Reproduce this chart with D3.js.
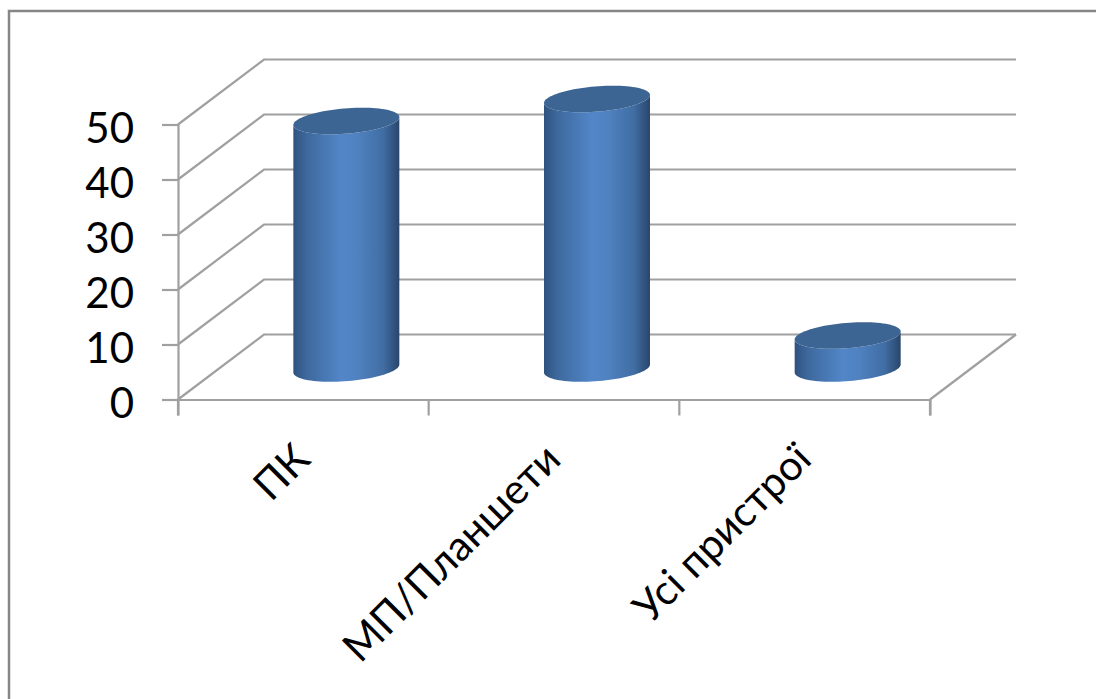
<!DOCTYPE html>
<html><head><meta charset="utf-8">
<script src="https://cdn.jsdelivr.net/npm/d3@7/dist/d3.min.js"></script>
<style>html,body{margin:0;padding:0;background:#fff}svg{display:block}</style>
</head><body><svg id="chart" width="1096" height="699"></svg>
<script>
// Device usage shares, drawn as a 3-D cylinder column chart
const categories = ["ПК", "МП/Планшети", "Усі пристрої"];
const values = [45, 49, 6];
const yTicks = [0, 10, 20, 30, 40, 50];

const font = "Lato, 'Noto Sans', sans-serif";
const gridColor = "#a0a0a0";
const svg = d3.select("#chart");

const x = d3.scaleBand().domain(categories).range([178, 930]);
const y = d3.scaleLinear().domain([0, 50]).range([399.5, 124.5]);

// Oblique projection: how far the back wall sits from the front plane
const depth = { dx: 86, dy: -65 };

// Chart frame, open towards the right and bottom
svg.append("path")
  .attr("d", "M9,699V11H1096")
  .attr("fill", "none").attr("stroke", "#868686").attr("stroke-width", 2.5);

// Gradient across the cylinder body
const defs = svg.append("defs");
const grad = defs.append("linearGradient").attr("id", "body");
[[0, "#2f527f"], [0.12, "#3d689c"], [0.45, "#5286c8"], [0.6, "#5082c1"], [0.85, "#406da3"], [1, "#29466b"]]
  .forEach(([o, c]) => grad.append("stop").attr("offset", o).attr("stop-color", c));

// Floor and back-wall grid
const grid = svg.append("g").attr("fill", "none").attr("stroke", gridColor).attr("stroke-width", 2.2);
yTicks.forEach(t => {
  grid.append("path").attr("d", d3.line()([
    [x.range()[0], y(t)],
    [x.range()[0] + depth.dx, y(t) + depth.dy],
    [x.range()[1] + depth.dx, y(t) + depth.dy]
  ]));
});
grid.append("line")
  .attr("x1", x.range()[1]).attr("y1", y(0))
  .attr("x2", x.range()[1] + depth.dx).attr("y2", y(0) + depth.dy);

// Axes
const yAxis = d3.axisLeft(y).tickValues(yTicks).tickSize(16).tickPadding(28);
const gy = svg.append("g").attr("transform", `translate(${x.range()[0]},0)`).call(yAxis);
gy.selectAll("text").attr("font-family", font).attr("font-size", 42).attr("fill", "#000")
  .attr("dy", "0.43em");

const xAxis = d3.axisBottom(x).tickSize(16).tickFormat("");
const gx = svg.append("g").attr("transform", `translate(0,${y(0)})`).call(xAxis);
gx.selectAll(".tick").remove();
const edges = categories.map(c => x(c)).concat(x.range()[1]);
gx.selectAll(".edge").data(edges).join("line").attr("class", "edge")
  .attr("x1", d => d).attr("x2", d => d).attr("y1", 0).attr("y2", 16);
svg.selectAll(".domain, .tick line, .edge").attr("stroke", gridColor).attr("stroke-width", 2.2);

// Rotated category labels
svg.append("g").selectAll("text").data(categories).join("text")
  .attr("transform", d => `translate(${x(d) + x.bandwidth() / 2 + 9},${y(0) + 62}) rotate(-45)`)
  .attr("text-anchor", "end")
  .attr("font-family", font).attr("font-size", 41.5).attr("fill", "#000")
  .text(d => d);

// Cylinders: each end cap is a unit circle sheared into the oblique view
const cap = { a: 53, c: -4, d: 12.7 };
const floorOffset = { dx: depth.dx / 2, dy: -31 };
const angles = d3.range(0, 361, 4).map(d => d * Math.PI / 180);
const capPoint = (cx, cy, t) => [cx + cap.a * Math.cos(t), cy + cap.c * Math.cos(t) + cap.d * Math.sin(t)];
const line = d3.line();

const bars = svg.append("g").selectAll("g").data(categories.map((c, i) => ({ c, v: values[i] }))).join("g");
bars.each(function (b) {
  const g = d3.select(this);
  const cx = x(b.c) + x.bandwidth() / 2 + floorOffset.dx;
  const base = y(0) + floorOffset.dy;
  const top = base - (y(0) - y(b.v));
  const lower = angles.filter(t => t <= Math.PI + 1e-6).map(t => capPoint(cx, base, t));
  const upper = angles.filter(t => t <= Math.PI + 1e-6).map(t => capPoint(cx, top, t)).reverse();
  g.append("path").attr("d", line(lower.concat(upper)) + "Z").attr("fill", "url(#body)");
  g.append("path").attr("d", line(angles.map(t => capPoint(cx, top, t))) + "Z").attr("fill", "#3c6593");
});
</script></body></html>
